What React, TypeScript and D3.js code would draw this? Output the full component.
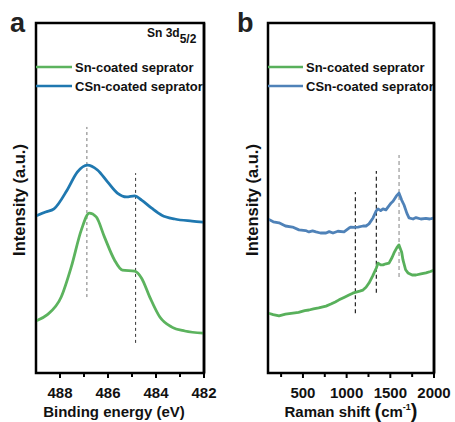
import React from "react";
import * as d3 from "d3";

// ---------- Panel a: XPS Sn 3d5/2 ----------
const xpsBlueE = [489.0, 488.6, 488.25, 487.7, 487.28, 486.86, 486.44, 486.02, 485.61, 485.23, 484.89, 484.6, 484.18, 483.76, 483.22, 482.5, 482.0];
const xpsBlueI = [44.9, 46.0, 46.9, 52.3, 57.4, 59.4, 58.0, 54.6, 51.4, 50.3, 50.6, 49.4, 47.1, 45.1, 44.0, 43.4, 43.1];
const xpsGreenE = [489.0, 488.54, 487.95, 487.53, 487.11, 486.78, 486.49, 486.15, 485.73, 485.4, 484.89, 484.6, 484.26, 483.84, 483.34, 482.8, 482.0];
const xpsGreenI = [14.9, 16.6, 21.7, 30.3, 40.9, 45.7, 44.6, 38.9, 32.3, 29.4, 29.1, 27.1, 21.7, 16.0, 13.1, 12.0, 11.4];
const xpsTicks = [488, 486, 484, 482];
const xpsMinor = [487, 485, 483];
const xpsDashX = [486.88, 484.85];
const xpsDashY0 = [21.7, 8.6];
const xpsDashY1 = [70.3, 57.1];

// ---------- Panel b: Raman ----------
const ramBlueX = [100, 160, 226, 300, 380, 455, 530, 569, 610, 649, 700, 764, 800, 844, 900, 970, 1027, 1050, 1090, 1130, 1187, 1222, 1256, 1302, 1340, 1359, 1390, 1416, 1450, 1473, 1510, 1531, 1570, 1599, 1630, 1657, 1690, 1714, 1760, 1794, 1850, 1908, 1950, 2000];
const ramBlueI = [44.0, 43.2, 42.9, 42.0, 41.7, 40.9, 40.7, 40.3, 40.6, 40.3, 40.0, 40.0, 40.4, 40.0, 40.5, 40.3, 41.4, 41.7, 41.6, 41.7, 42.0, 42.0, 42.6, 44.3, 46.4, 46.9, 46.4, 46.9, 46.6, 47.4, 48.6, 49.1, 50.6, 51.4, 49.4, 48.0, 45.6, 44.3, 44.0, 44.4, 44.0, 44.2, 44.0, 44.3];
const ramGreenX = [100, 160, 226, 300, 386, 450, 520, 569, 620, 680, 764, 820, 870, 913, 970, 1027, 1070, 1107, 1150, 1187, 1222, 1256, 1300, 1340, 1359, 1390, 1416, 1450, 1485, 1520, 1542, 1575, 1599, 1630, 1645, 1675, 1702, 1750, 1794, 1850, 1908, 1960, 2000];
const ramGreenI = [17.1, 16.7, 16.3, 16.8, 17.1, 17.3, 17.8, 18.0, 18.3, 18.6, 19.1, 19.7, 20.3, 20.9, 21.6, 22.3, 22.8, 23.1, 23.4, 23.7, 24.5, 25.7, 27.8, 30.0, 31.4, 30.9, 30.9, 31.2, 31.4, 33.0, 34.3, 35.8, 36.6, 34.5, 32.3, 29.5, 28.6, 28.0, 28.0, 28.3, 28.6, 29.0, 29.4];
const ramTicks = [500, 1000, 1500, 2000];
const ramMinor = [250, 750, 1250, 1750];
const ramDashX = [1100, 1340, 1600];
const ramDashY0 = [17.1, 22.9, 27.4];
const ramDashY1 = [51.7, 57.7, 62.3];

const seriesNames = ["Sn-coated seprator", "CSn-coated seprator"];

const FONT = "'Liberation Sans', Arial, sans-serif";
const TOP = 23;
const BOTTOM = 373;

export default function App() {
  const y = d3.scaleLinear().domain([0, 100]).range([BOTTOM, TOP]);
  const xa = d3.scaleLinear().domain([489, 482]).range([36, 204]);
  const xb = d3.scaleLinear().domain([100, 2000]).range([268, 434]);

  const lineA = d3.line<[number, number]>().x((d) => xa(d[0])).y((d) => y(d[1])).curve(d3.curveMonotoneX);
  const lineB = d3.line<[number, number]>().x((d) => xb(d[0])).y((d) => y(d[1])).curve(d3.curveLinear);

  const zip = (a: number[], b: number[]) => a.map((v, i) => [v, b[i]] as [number, number]);

  const green = "#5cb35e";
  const blue = "#1f78b0";
  const rGreen = "#58b05b";
  const rBlue = "#4f82b8";

  const W = 2.5;
  const box = (x0: number, x1: number) => (
    <g>
      <rect x={x0 - W / 2} y={TOP - W / 2} width={x1 - x0 + W} height={BOTTOM - TOP + W} fill="#000" />
      <rect x={x0 + W / 2} y={TOP + W / 2} width={x1 - x0 - W} height={BOTTOM - TOP - W} fill="#fff" />
    </g>
  );

  const legend = (x0: number, x1: number, cols: string[]) => (
    <g>
      {seriesNames.map((n, i) => (
        <g key={n}>
          <line x1={x0} x2={x1} y1={67 + i * 19} y2={67 + i * 19} stroke={cols[i]} strokeWidth={2.6} />
          <text x={x1 + 3} y={67 + i * 19 + 4.5} fontFamily={FONT} fontWeight="bold" fontSize={13} fill="#111">
            {n}
          </text>
        </g>
      ))}
    </g>
  );

  return (
    <div style={{ position: "absolute", left: 0, top: 0, width: 455, height: 422, background: "#fff" }}>
      <svg width={455} height={422} viewBox="0 0 455 422" style={{ display: "block" }}>
        <defs>
          <clipPath id="clipA"><rect x={37} y={TOP} width={166} height={BOTTOM - TOP} /></clipPath>
          <clipPath id="clipB"><rect x={269} y={TOP} width={164} height={BOTTOM - TOP} /></clipPath>
        </defs>
        {box(36, 204)}
        {box(268, 434)}
        {/* Panel a */}
        <text x={10} y={32} fontFamily={FONT} fontWeight="bold" fontSize={27} fill="#222">a</text>
        <text x={19} y={200} transform="rotate(-90 19 200)" textAnchor="middle" dominantBaseline="central" fontFamily={FONT} fontWeight="bold" fontSize={16.5} fill="#111">
          Intensity (a.u.)
        </text>
        {legend(36, 72, [green, blue])}
        <text x={147} y={37} fontFamily={FONT} fontWeight="bold" fontSize={12} fill="#111">
          Sn 3d<tspan dy={6} fontSize={12}>5/2</tspan>
        </text>
        {xpsDashX.map((v, i) => (
          <line key={i} x1={xa(v)} x2={xa(v)} y1={y(xpsDashY0[i])} y2={y(xpsDashY1[i])} stroke={i === 0 ? "#777" : "#333"} strokeWidth={1} strokeDasharray="3,3" />
        ))}
        <g clipPath="url(#clipA)">
          <path d={lineA(zip(xpsBlueE, xpsBlueI)) || ""} fill="none" stroke={blue} strokeWidth={2.8} />
          <path d={lineA(zip(xpsGreenE, xpsGreenI)) || ""} fill="none" stroke={green} strokeWidth={2.8} />
        </g>
        {xpsTicks.map((t) => (
          <g key={t}>
            <line x1={xa(t)} x2={xa(t)} y1={BOTTOM} y2={BOTTOM + 5} stroke="#000" strokeWidth={2} />
            <text x={xa(t)} y={398} textAnchor="middle" fontFamily={FONT} fontWeight="bold" fontSize={15} fill="#111">{t}</text>
          </g>
        ))}
        {xpsMinor.map((t) => (
          <line key={t} x1={xa(t)} x2={xa(t)} y1={BOTTOM} y2={BOTTOM + 4} stroke="#000" strokeWidth={2} />
        ))}
        <text x={114} y={417} textAnchor="middle" fontFamily={FONT} fontWeight="bold" fontSize={15} fill="#111">Binding energy (eV)</text>

        {/* Panel b */}
        <text x={237} y={32} fontFamily={FONT} fontWeight="bold" fontSize={27} fill="#222">b</text>
        <text x={252} y={200} transform="rotate(-90 252 200)" textAnchor="middle" dominantBaseline="central" fontFamily={FONT} fontWeight="bold" fontSize={16.5} fill="#111">
          Intensity (a.u.)
        </text>
        {legend(268, 303, [rGreen, rBlue])}
        {ramDashX.map((v, i) => (
          <line key={i} x1={xb(v)} x2={xb(v)} y1={y(ramDashY0[i])} y2={y(ramDashY1[i])} stroke={i === 2 ? "#999" : "#222"} strokeWidth={1.2} strokeDasharray="4,3" />
        ))}
        <g clipPath="url(#clipB)">
          <path d={lineB(zip(ramBlueX, ramBlueI)) || ""} fill="none" stroke={rBlue} strokeWidth={2.8} strokeLinejoin="round" />
          <path d={lineB(zip(ramGreenX, ramGreenI)) || ""} fill="none" stroke={rGreen} strokeWidth={2.8} strokeLinejoin="round" />
        </g>
        <line x1={204} x2={204} y1={TOP} y2={BOTTOM} stroke="#000" strokeWidth={2.5} />
        <line x1={434} x2={434} y1={TOP} y2={BOTTOM} stroke="#000" strokeWidth={2.5} />
        {ramTicks.map((t) => (
          <g key={t}>
            <line x1={xb(t)} x2={xb(t)} y1={BOTTOM} y2={BOTTOM + 5} stroke="#000" strokeWidth={2} />
            <text x={xb(t)} y={398} textAnchor="middle" fontFamily={FONT} fontWeight="bold" fontSize={15} fill="#111">{t}</text>
          </g>
        ))}
        {ramMinor.map((t) => (
          <line key={t} x1={xb(t)} x2={xb(t)} y1={BOTTOM} y2={BOTTOM + 4} stroke="#000" strokeWidth={2} />
        ))}
        <text x={351} y={417} textAnchor="middle" fontFamily={FONT} fontWeight="bold" fontSize={15} fill="#111">
          Raman shift <tspan fontSize={20} dy={1}>(</tspan><tspan fontSize={15} dy={-1}>cm</tspan><tspan fontSize={9} dy={-7}>-1</tspan><tspan fontSize={20} dy={8}>)</tspan>
        </text>
      </svg>
    </div>
  );
}
